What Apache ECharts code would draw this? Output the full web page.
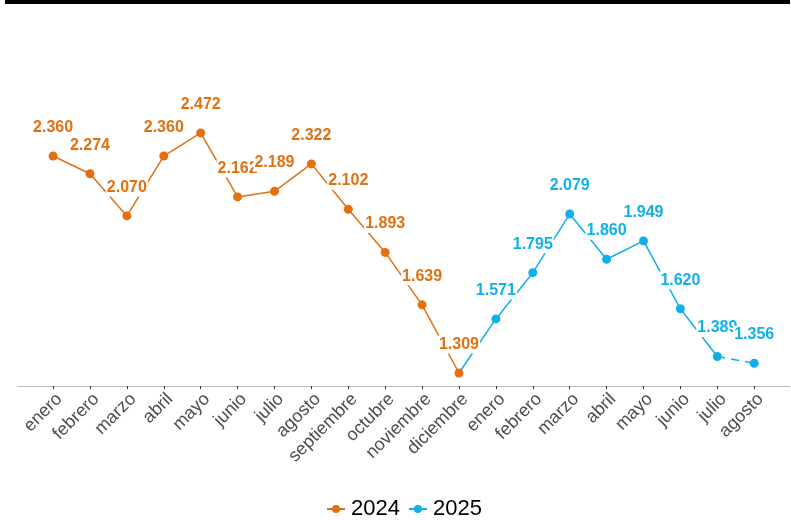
<!DOCTYPE html>
<html>
<head>
<meta charset="utf-8">
<script src="https://cdn.jsdelivr.net/npm/echarts@6/dist/echarts.min.js"></script>
<style>
html,body{margin:0;padding:0;background:#fff;}
#chart{width:791px;height:520px;}
</style>
</head>
<body>
<div id="chart"></div>
<script>
var categories = ['enero','febrero','marzo','abril','mayo','junio','julio','agosto','septiembre','octubre','noviembre','diciembre',
                  'enero','febrero','marzo','abril','mayo','junio','julio','agosto'];
var values2024 = [2.360, 2.274, 2.070, 2.360, 2.472, 2.162, 2.189, 2.322, 2.102, 1.893, 1.639, 1.309];
var values2025 = [1.571, 1.795, 2.079, 1.860, 1.949, 1.620, 1.389, 1.356];
var seriesNames = ['2024', '2025'];

var ORANGE = '#E3700F';
var BLUE = '#0FB0EC';

function fmt(v){ return v.toFixed(3); }

var data2024 = values2024.map(function(v,i){ return [i, v]; });
var off = values2024.length;
var data2025 = [{value:[off-1, values2024[off-1]], symbol:'none', label:{show:false}}];
for (var i = 0; i < values2025.length - 1; i++) data2025.push([off + i, values2025[i]]);
var n = values2025.length;
var data2025d = [
  {value:[off + n - 2, values2025[n-2]], symbol:'none', label:{show:false}},
  [off + n - 1, values2025[n-1]]
];

var ticks = categories.map(function(c,i){ return i; });

function labelCfg(color){
  return {
    show: true, position: 'top', distance: 15,
    color: color, fontFamily: 'Liberation Sans, Arial, sans-serif',
    fontWeight: 'bold', fontSize: 16,
    backgroundColor: '#fff', padding: [1, 1],
    formatter: function(p){ return fmt(p.value[1]); }
  };
}

var chart = echarts.init(document.getElementById('chart'), null, {renderer:'canvas'});
chart.setOption({
  animation: false,
  backgroundColor: '#fff',
  graphic: [{type:'rect', left: 5, top: 0, shape:{width: 785, height: 4}, style:{fill:'#000'}}],
  grid: {left: 18, right: 1, top: 106.5, bottom: 134, containLabel: false},
  legend: {
    data: seriesNames, top: 493, left: 321,
    itemWidth: 18, itemHeight: 10, itemGap: 8,
    textStyle: {fontSize: 22, color: '#000', fontFamily: 'Liberation Sans, Arial, sans-serif', padding: [0,0,0,1]}
  },
  xAxis: {
    type: 'value', min: -0.95, max: 19.97,
    splitLine: {show:false},
    axisLine: {show:true, lineStyle:{color:'#bdbdbd', width:1}},
    axisTick: {show:true, customValues: ticks, length: 3, lineStyle:{color:'#333'}},
    axisLabel: {
      show: true, customValues: ticks, rotate: 45, margin: 4,
      verticalAlign: 'top',
      fontSize: 18, color: '#4d4d4d', fontFamily: 'Liberation Sans, Arial, sans-serif',
      formatter: function(v){ return categories[Math.round(v)]; }
    }
  },
  yAxis: {
    type: 'value', min: 1.246, max: 2.6,
    show: false, splitLine: {show:false}
  },
  series: [
    {
      name: seriesNames[0], type: 'line', data: data2024, z: 4,
      symbol: 'circle', symbolSize: 9,
      itemStyle: {color: ORANGE}, lineStyle: {color: ORANGE, width: 1.5},
      label: labelCfg(ORANGE)
    },
    {
      name: seriesNames[1], type: 'line', data: data2025, z: 2,
      symbol: 'circle', symbolSize: 9,
      itemStyle: {color: BLUE}, lineStyle: {color: BLUE, width: 1.5},
      label: labelCfg(BLUE)
    },
    {
      name: seriesNames[1], type: 'line', data: data2025d, z: 3,
      symbol: 'circle', symbolSize: 9,
      itemStyle: {color: BLUE}, lineStyle: {color: BLUE, width: 1.5, type: [8, 6]},
      label: labelCfg(BLUE)
    }
  ]
});
</script>
</body>
</html>
